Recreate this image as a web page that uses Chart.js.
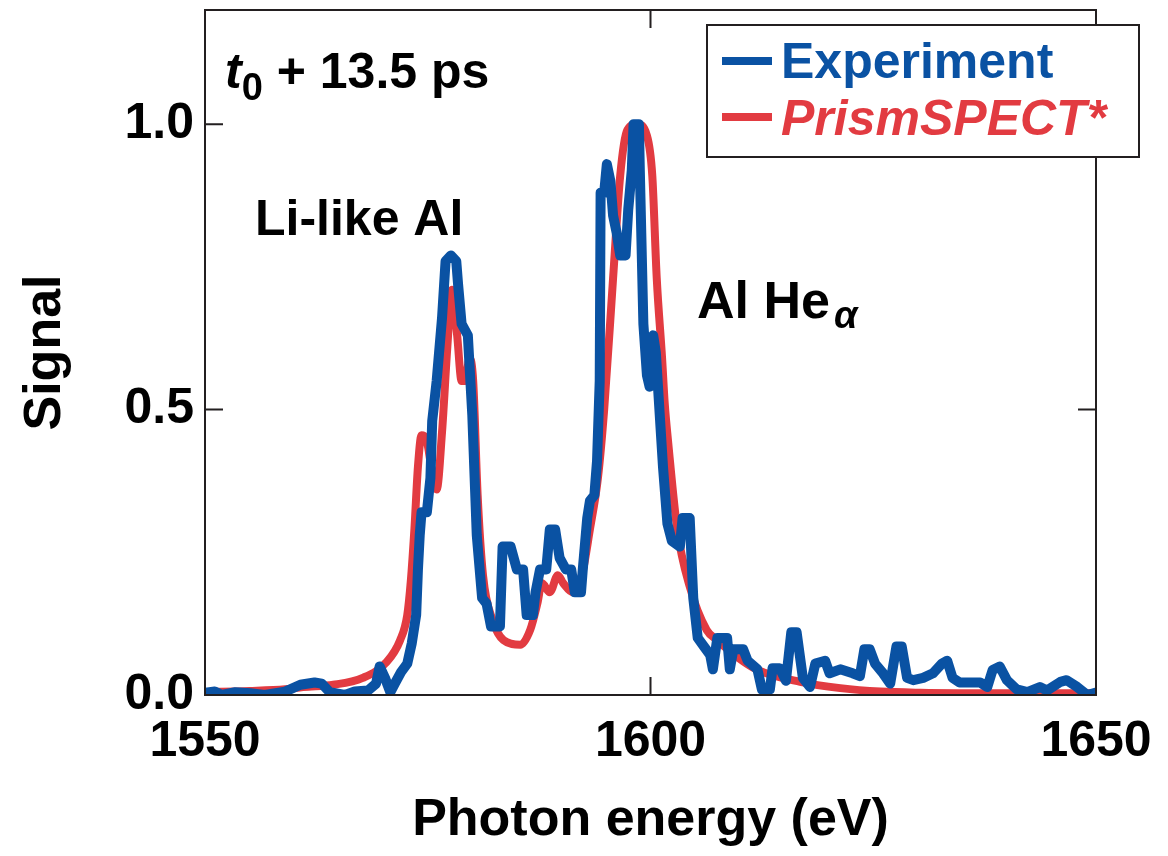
<!DOCTYPE html>
<html>
<head>
<meta charset="utf-8">
<script src="https://cdn.jsdelivr.net/npm/chart.js@4.4.0/dist/chart.umd.min.js"></script>
<style>
  html, body { margin: 0; padding: 0; background: #fff; }
  #wrap { width: 1168px; height: 856px; }
</style>
</head>
<body>
<div id="wrap"><canvas id="chart" width="1168" height="856"></canvas></div>
<script>
// Experiment trace (blue), photon energy in eV
const expEnergy = [
  1550.0, 1551.1, 1551.9, 1553.4, 1555.1, 1556.7, 1559.0, 1560.7, 1562.3, 1563.1,
  1564.0, 1565.7, 1566.8, 1568.3, 1569.2, 1569.6, 1570.2, 1570.8, 1571.3, 1572.0,
  1572.7, 1573.2, 1573.7, 1573.9, 1574.1, 1574.3, 1574.9, 1575.3, 1575.5, 1576.0,
  1576.6, 1577.0, 1577.6, 1578.2, 1578.4, 1578.8, 1579.5, 1580.0, 1580.5, 1581.1,
  1581.6, 1582.1, 1583.1, 1583.4, 1584.3, 1585.0, 1585.7, 1586.1, 1586.8, 1587.1,
  1587.6, 1588.3, 1588.7, 1589.3, 1589.8, 1590.5, 1591.1, 1591.5, 1592.2, 1592.4,
  1592.9, 1593.2, 1593.7, 1594.0, 1594.3, 1594.4, 1594.8, 1595.1, 1595.5, 1595.8,
  1596.2, 1596.6, 1597.2, 1597.5, 1597.9, 1598.1, 1598.7, 1598.8, 1599.2, 1599.6,
  1599.9, 1600.3, 1600.6, 1601.0, 1601.4, 1601.9, 1602.4, 1603.3, 1603.6, 1604.4,
  1604.8, 1605.3, 1606.0, 1606.7, 1607.0, 1607.5, 1608.6, 1608.9, 1609.3, 1610.4,
  1610.9, 1612.0, 1612.5, 1613.4, 1613.7, 1614.5, 1615.2, 1615.8, 1616.4, 1617.1,
  1617.9, 1618.5, 1619.6, 1620.1, 1621.3, 1622.7, 1623.5, 1624.0, 1624.6, 1625.2,
  1626.1, 1626.9, 1627.6, 1628.2, 1628.8, 1629.5, 1630.6, 1631.7, 1632.7, 1633.3,
  1633.9, 1634.7, 1637.0, 1637.8, 1638.4, 1639.2, 1640.0, 1641.1, 1642.3, 1643.7,
  1644.5, 1646.0, 1646.7, 1647.9, 1649.0, 1650.0
];
const expSignal = [
  0.004, 0.006, 0.000, 0.005, 0.003, 0.000, 0.006, 0.018, 0.022, 0.020,
  0.005, 0.000, 0.006, 0.008, 0.020, 0.050, 0.030, 0.005, 0.020, 0.040,
  0.055, 0.090, 0.140, 0.220, 0.280, 0.320, 0.320, 0.380, 0.480, 0.550,
  0.660, 0.760, 0.770, 0.760, 0.720, 0.650, 0.630, 0.490, 0.280, 0.170,
  0.160, 0.120, 0.120, 0.260, 0.260, 0.220, 0.220, 0.140, 0.140, 0.180,
  0.220, 0.220, 0.290, 0.290, 0.240, 0.220, 0.220, 0.180, 0.180, 0.220,
  0.310, 0.340, 0.350, 0.410, 0.550, 0.880, 0.880, 0.930, 0.900, 0.840,
  0.810, 0.770, 0.770, 0.850, 0.920, 1.000, 1.000, 0.920, 0.650, 0.560,
  0.540, 0.630, 0.600, 0.500, 0.400, 0.300, 0.270, 0.260, 0.310, 0.310,
  0.170, 0.100, 0.085, 0.070, 0.045, 0.100, 0.100, 0.045, 0.080, 0.080,
  0.060, 0.045, 0.010, 0.010, 0.047, 0.047, 0.025, 0.110, 0.110, 0.030,
  0.014, 0.055, 0.060, 0.038, 0.045, 0.038, 0.033, 0.080, 0.080, 0.055,
  0.038, 0.020, 0.085, 0.085, 0.030, 0.026, 0.030, 0.038, 0.055, 0.060,
  0.030, 0.022, 0.022, 0.014, 0.044, 0.050, 0.026, 0.010, 0.005, 0.014,
  0.008, 0.023, 0.026, 0.014, 0.000, 0.004
];

// PrismSPECT* simulation (red)
const simEnergy = [
  1550.0, 1555.0, 1559.0, 1561.0, 1564.4, 1567.7, 1570.4, 1571.9, 1572.7, 1573.1,
  1573.5, 1573.9, 1574.3, 1574.8, 1575.5, 1576.0, 1576.6, 1577.2, 1577.7, 1578.3,
  1578.8, 1579.2, 1579.7, 1580.1, 1580.6, 1581.2, 1582.3, 1583.5, 1585.4, 1586.5,
  1587.3, 1587.8, 1588.7, 1589.6, 1590.2, 1591.3, 1592.3, 1593.2, 1594.1, 1594.8,
  1595.8, 1596.6, 1597.4, 1598.5, 1599.6, 1600.2, 1600.7, 1601.3, 1601.6, 1602.0,
  1603.0, 1604.4, 1606.3, 1607.5, 1609.7, 1612.0, 1616.8, 1621.3, 1625.8, 1630.3,
  1640.0, 1650.0
];
const simSignal = [
  0.005, 0.007, 0.010, 0.014, 0.018, 0.030, 0.058, 0.096, 0.140, 0.200,
  0.290, 0.400, 0.455, 0.450, 0.390, 0.360, 0.460, 0.610, 0.710, 0.630,
  0.550, 0.550, 0.590, 0.550, 0.350, 0.210, 0.130, 0.096, 0.088, 0.114,
  0.160, 0.196, 0.180, 0.210, 0.196, 0.180, 0.210, 0.290, 0.380, 0.500,
  0.730, 0.910, 0.990, 1.000, 0.980, 0.910, 0.730, 0.590, 0.510, 0.440,
  0.290, 0.190, 0.114, 0.096, 0.067, 0.044, 0.023, 0.012, 0.006, 0.004,
  0.003, 0.003
];

const xTicks = [1550, 1600, 1650];
const yTicks = [0, 0.5, 1.0];

const BLUE = '#0a52a3';
const RED = '#e23b41';
const INK = '#231f20';
const FONT = '"Liberation Sans", Arial, Helvetica, sans-serif';

// Box round the plot with inward ticks on all four sides
const framePlugin = {
  id: 'frame',
  afterDatasetsDraw(chart) {
    const { ctx, chartArea: a, scales: { x, y } } = chart;
    const len = 18;
    ctx.save();
    ctx.strokeStyle = INK;
    ctx.lineWidth = 2;
    ctx.strokeRect(a.left, a.top, a.right - a.left, a.bottom - a.top);
    ctx.beginPath();
    xTicks.forEach(v => {
      const px = x.getPixelForValue(v);
      ctx.moveTo(px, a.bottom); ctx.lineTo(px, a.bottom - len);
      ctx.moveTo(px, a.top); ctx.lineTo(px, a.top + len);
    });
    yTicks.forEach(v => {
      const py = y.getPixelForValue(v);
      ctx.moveTo(a.left, py); ctx.lineTo(a.left + len, py);
      ctx.moveTo(a.right, py); ctx.lineTo(a.right - len, py);
    });
    ctx.stroke();
    ctx.restore();
  }
};

// Text labels and the boxed legend
const labelPlugin = {
  id: 'labels',
  afterDraw(chart) {
    const ctx = chart.ctx;
    ctx.save();
    ctx.textBaseline = 'alphabetic';
    ctx.textAlign = 'left';
    ctx.fillStyle = '#000';

    // t0 + 13.5 ps
    let x = 225;
    ctx.font = `italic bold 50px ${FONT}`;
    ctx.fillText('t', x, 88);
    x += ctx.measureText('t').width;
    ctx.font = `bold 38px ${FONT}`;
    ctx.fillText('0', x, 100);
    x += ctx.measureText('0').width;
    ctx.font = `bold 50px ${FONT}`;
    ctx.fillText(' + 13.5 ps', x, 88);

    ctx.fillText('Li-like Al', 255, 235);

    ctx.font = `bold 52px ${FONT}`;
    ctx.fillText('Al He', 697, 318);
    x = 697 + ctx.measureText('Al He').width + 4;
    ctx.font = `italic bold 38px ${FONT}`;
    ctx.fillText('\u03b1', x, 328);

    // legend
    ctx.fillStyle = '#fff';
    ctx.fillRect(707, 25, 432, 132);
    ctx.strokeStyle = INK;
    ctx.lineWidth = 2;
    ctx.strokeRect(707, 25, 432, 132);

    ctx.lineWidth = 8;
    ctx.strokeStyle = BLUE;
    ctx.beginPath(); ctx.moveTo(722, 61); ctx.lineTo(772, 61); ctx.stroke();
    ctx.strokeStyle = RED;
    ctx.beginPath(); ctx.moveTo(722, 117); ctx.lineTo(772, 117); ctx.stroke();

    ctx.font = `bold 50px ${FONT}`;
    ctx.fillStyle = BLUE;
    ctx.fillText('Experiment', 781, 78);
    ctx.font = `italic bold 50px ${FONT}`;
    ctx.fillStyle = RED;
    ctx.fillText('PrismSPECT*', 781, 135);
    ctx.restore();
  }
};

const tickFont = { family: FONT, size: 50, weight: 'bold' };
const titleFont = { family: FONT, size: 52, weight: 'bold' };

new Chart(document.getElementById('chart').getContext('2d'), {
  type: 'line',
  data: {
    datasets: [
      {
        label: 'Experiment',
        data: expEnergy.map((e, i) => ({ x: e, y: expSignal[i] })),
        borderColor: BLUE,
        borderWidth: 10,
        pointRadius: 0,
        tension: 0,
        borderJoinStyle: 'round',
        borderCapStyle: 'round'
      },
      {
        label: 'PrismSPECT*',
        data: simEnergy.map((e, i) => ({ x: e, y: simSignal[i] })),
        borderColor: RED,
        borderWidth: 8,
        pointRadius: 0,
        cubicInterpolationMode: 'monotone',
        borderJoinStyle: 'round'
      }
    ]
  },
  options: {
    responsive: false,
    animation: false,
    devicePixelRatio: 1,
    layout: { padding: { top: 10, right: 72, left: 0, bottom: 0 } },
    plugins: {
      legend: { display: false },
      tooltip: { enabled: false }
    },
    scales: {
      x: {
        type: 'linear',
        min: 1550,
        max: 1650,
        afterFit: s => { s.height = 161; s.paddingLeft = 0; s.paddingRight = 0; },
        afterBuildTicks: s => { s.ticks = xTicks.map(v => ({ value: v })); },
        ticks: {
          font: tickFont, color: '#000', padding: 17,
          maxRotation: 0, autoSkip: false,
          callback: v => String(v)
        },
        grid: { display: false, drawTicks: false },
        border: { display: false },
        title: {
          display: true, text: 'Photon energy (eV)',
          font: titleFont, color: '#000',
          padding: { top: 0, bottom: 4 }
        }
      },
      y: {
        type: 'linear',
        min: 0,
        max: 1.2,
        afterFit: s => { s.width = 205; s.paddingTop = 0; s.paddingBottom = 0; },
        afterBuildTicks: s => { s.ticks = yTicks.map(v => ({ value: v })); },
        ticks: {
          font: tickFont, color: '#000', padding: 11,
          callback: v => Number(v).toFixed(1)
        },
        grid: { display: false, drawTicks: false },
        border: { display: false },
        title: {
          display: true, text: 'Signal',
          font: titleFont, color: '#000',
          padding: { top: 14, bottom: 0 }
        }
      }
    }
  },
  plugins: [framePlugin, labelPlugin]
});
</script>
</body>
</html>
